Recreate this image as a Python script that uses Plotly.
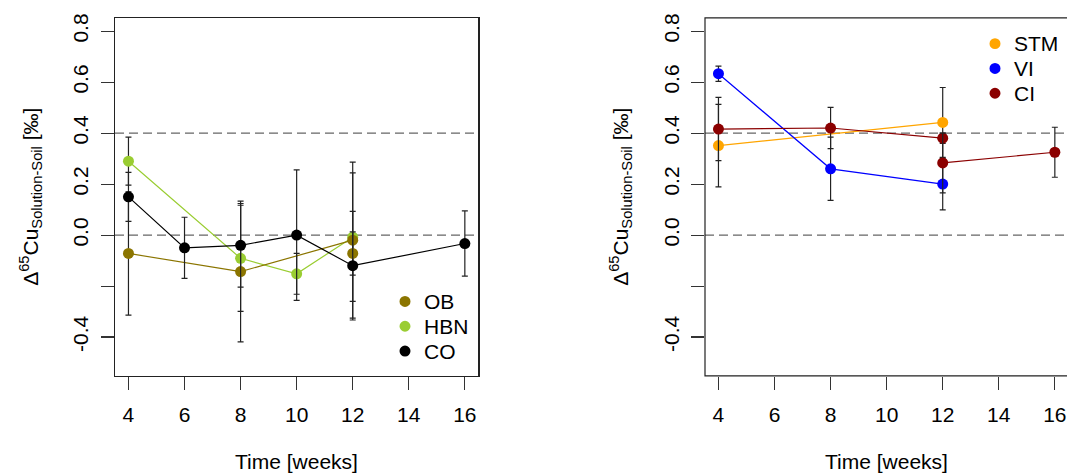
import plotly.graph_objects as go

# ---------------- data ----------------
# Left panel
OB_x = [4, 8, 12]
OB_y = [-0.072, -0.143, -0.020]
OB_err = [0.242, 0.276, 0.306]
OB2_x = [12]
OB2_y = [-0.072]
OB2_err = [0.085]

HBN_x = [4, 8, 10, 12]
HBN_y = [0.290, -0.091, -0.152, -0.008]
HBN_err = [0.094, 0.208, 0.080, 0.252]

CO_x = [4, 6, 8, 10, 12, 16]
CO_y = [0.150, -0.050, -0.040, 0.000, -0.120, -0.033]
CO_err = [0.096, 0.120, 0.164, 0.256, 0.213, 0.128]

# Right panel
STM_x = [4, 12]
STM_y = [0.351, 0.442]
STM_err = [0.162, 0.137]

VI_x = [4, 8, 12]
VI_y = [0.633, 0.260, 0.200]
VI_err = [0.030, 0.124, 0.101]

CI_x = [4, 8, 12]
CI_y = [0.416, 0.420, 0.380]
CI_err = [0.124, 0.081, 0.020]
CI2_x = [12, 16]
CI2_y = [0.283, 0.325]
CI2_err = [0.117, 0.098]

REF_LINES = [0.0, 0.4]
X_TICKS = [4, 6, 8, 10, 12, 14, 16]
Y_TICKS = [-0.4, -0.2, 0.0, 0.2, 0.4, 0.6, 0.8]
Y_TICK_TEXT = ["-0.4", "", "0.0", "0.2", "0.4", "0.6", "0.8"]
LEFT_LEGEND = ["OB", "HBN", "CO"]
RIGHT_LEGEND = ["STM", "VI", "CI"]

# ---------------- styling ----------------
W, H = 1067, 475
FONT = "Liberation Sans, Arial, sans-serif"
FS = 21
C = {"OB": "#8B7500", "HBN": "#9ACD32", "CO": "#000000",
     "STM": "#FFA500", "VI": "#0000FF", "CI": "#8B0000"}
ERRC = "#222222"
MS = 11

fig = go.Figure()


def add_series(x, y, err, color, xa, ya, mode="lines+markers"):
    fig.add_trace(go.Scatter(
        x=x, y=y, mode=mode, xaxis=xa, yaxis=ya, showlegend=False,
        line=dict(color=color, width=1.2),
        marker=dict(color=color, size=MS),
        error_y=dict(type="data", array=err, visible=True, color=ERRC,
                     thickness=1.2, width=3),
        hoverinfo="skip"))


# left panel
add_series(HBN_x, HBN_y, HBN_err, C["HBN"], "x", "y")
add_series(OB_x, OB_y, OB_err, C["OB"], "x", "y")
add_series(OB2_x, OB2_y, OB2_err, C["OB"], "x", "y", mode="markers")
add_series(CO_x, CO_y, CO_err, C["CO"], "x", "y")
# right panel
add_series(STM_x, STM_y, STM_err, C["STM"], "x2", "y2")
add_series(VI_x, VI_y, VI_err, C["VI"], "x2", "y2")
add_series(CI_x, CI_y, CI_err, C["CI"], "x2", "y2")
add_series(CI2_x, CI2_y, CI2_err, C["CI"], "x2", "y2")

px = lambda v: v / W
py = lambda v: 1 - v / H

# reference dashed lines
for xr, yr in (("x domain", "y"), ("x2 domain", "y2")):
    for v in REF_LINES:
        fig.add_shape(type="line", xref=xr, yref=yr, x0=0, x1=1, y0=v, y1=v,
                      line=dict(color="#666666", width=1.1, dash="9px,5px"),
                      layer="below")

# frame of right panel (right edge lies outside the page)
fig.add_shape(type="rect", xref="x2 domain", yref="y2 domain",
              x0=0, x1=1.01, y0=0, y1=1, line=dict(color="#222222", width=1.2),
              layer="above")

# legends (symbol + label), placed inside each panel
def add_legend(names, sym_x, top_y, step=25, r=5.5):
    for i, name in enumerate(names):
        cy = top_y + i * step
        fig.add_shape(type="circle", xref="paper", yref="paper",
                      x0=px(sym_x - r), x1=px(sym_x + r),
                      y0=py(cy + r), y1=py(cy - r),
                      fillcolor=C[name], line=dict(color=C[name], width=0))
        fig.add_annotation(text=name, xref="paper", yref="paper",
                           x=px(sym_x + 17), y=py(cy), xanchor="left",
                           yanchor="middle", showarrow=False,
                           font=dict(family=FONT, size=FS, color="#000000"))


add_legend(LEFT_LEGEND, 405, 300)
add_legend(RIGHT_LEGEND, 995, 40)

XDOM1 = [px(115), px(478.3)]
XDOM2 = [px(705), 1.0]
YDOM = [py(375), py(14)]
YRANGE = [-0.552, 0.852]

axis_common = dict(showgrid=False, zeroline=False, ticks="outside", ticklen=13,
                   tickwidth=1.2, tickcolor="#333333",
                   tickfont=dict(family=FONT, size=FS, color="#000000"))

fig.update_layout(
    width=W, height=H, margin=dict(l=0, r=0, t=0, b=0),
    paper_bgcolor="white", plot_bgcolor="white", showlegend=False,
    font=dict(family=FONT, size=FS, color="#000000"),
    xaxis=dict(domain=XDOM1, range=[3.52, 16.48], anchor="y",
               tickvals=X_TICKS, showline=True, mirror=True,
               linecolor="#222222", linewidth=1.2, ticklabelstandoff=7,
               **axis_common),
    yaxis=dict(domain=YDOM, range=YRANGE, anchor="x",
               tickvals=Y_TICKS, ticktext=Y_TICK_TEXT, tickangle=-90,
               showline=True, mirror=True, linecolor="#222222", linewidth=1.2,
               ticklabelstandoff=4, **axis_common),
    xaxis2=dict(domain=XDOM2, range=[3.52, 16.48 - 1.3 / 28.08], anchor="y2",
                tickvals=X_TICKS, showline=False, ticklabelstandoff=7,
                **axis_common),
    yaxis2=dict(domain=YDOM, range=YRANGE, anchor="x2",
                tickvals=Y_TICKS, ticktext=Y_TICK_TEXT, tickangle=-90,
                showline=False, ticklabelstandoff=4, **axis_common),
)

YTITLE = "Δ<sup>65</sup>Cu<sub>Solution-Soil</sub> [‰]"
for xc in (31, 621):
    fig.add_annotation(text=YTITLE, xref="paper", yref="paper", x=px(xc),
                       y=py(194.5), xanchor="center", yanchor="middle",
                       textangle=-90, showarrow=False,
                       font=dict(family=FONT, size=FS))
for xc in (296.5, 886.5):
    fig.add_annotation(text="Time [weeks]", xref="paper", yref="paper",
                       x=px(xc), y=py(461), xanchor="center", yanchor="middle",
                       showarrow=False, font=dict(family=FONT, size=FS))

fig.write_html("out.html",
               config={"displayModeBar": False, "staticPlot": True},
               post_script="document.body.style.margin='0px';"
                           "document.body.style.overflow='hidden';")
